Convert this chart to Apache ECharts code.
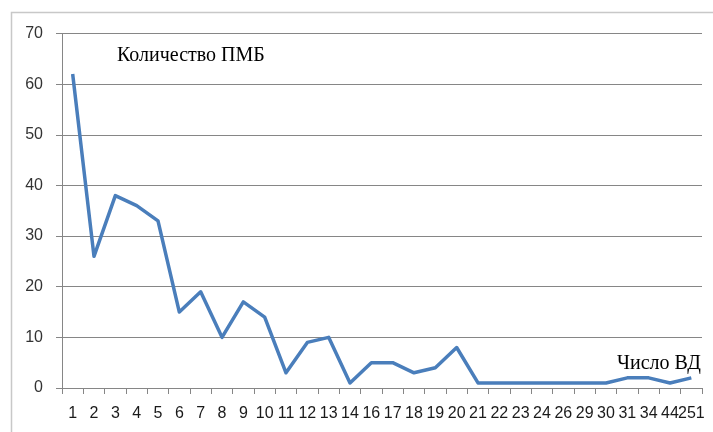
<!DOCTYPE html>
<html><head><meta charset="utf-8">
<script src="https://cdn.jsdelivr.net/npm/echarts@6/dist/echarts.min.js"></script>
<style>html,body{margin:0;padding:0;background:#fff}#c{width:713px;height:432px}</style>
</head><body><div id="c"></div>
<script>
const categories = ['1','2','3','4','5','6','7','8','9','10','11','12','13','14','16','17','18','19','20','21','22','23','24','26','29','30','31','34','44','251'];
const values = [62,26,38,36,33,15,19,10,17,14,3,9,10,1,5,5,3,4,8,1,1,1,1,1,1,1,2,2,1,2];
const yTicks = {min:0, max:70, interval:10};
const seriesName = 'Количество ПМБ';
const xName = 'Число ВД';

const chart = echarts.init(document.getElementById('c'), null, {renderer:'canvas'});
chart.setOption({
  animation:false,
  backgroundColor:'#fff',
  grid:{left:62, right:11, top:33.5, bottom:44, containLabel:false},
  xAxis:{
    type:'category', data:categories, boundaryGap:true,
    axisLine:{lineStyle:{color:'#868686', width:1}},
    axisTick:{show:true, alignWithLabel:false, interval:0, length:6, lineStyle:{color:'#868686'}},
    axisLabel:{interval:0, hideOverlap:false, color:'#1a1a1a', fontFamily:'"Liberation Sans Narrow", "Liberation Sans", sans-serif', fontSize:16, margin:18}
  },
  yAxis:{
    type:'value', min:yTicks.min, max:yTicks.max, interval:yTicks.interval,
    axisLine:{show:true, lineStyle:{color:'#868686'}},
    axisTick:{show:true, length:6, lineStyle:{color:'#868686'}},
    splitLine:{lineStyle:{color:'#868686', width:1}},
    axisLabel:{color:'#333', fontFamily:'Liberation Sans', fontSize:16, margin:19}
  },
  series:[{
    name:seriesName, type:'line', data:values, symbol:'none',
    lineStyle:{color:'#4a7ebb', width:3.5, join:'round'}
  }],
  graphic:[
    {type:'rect', shape:{x:11.5, y:12.5, width:720, height:440}, style:{fill:'none', stroke:'#c8c8c8', lineWidth:1.5}, silent:true},
    {type:'text', left:117, top:46, style:{text:seriesName, font:'20px "Liberation Serif"', fill:'#000'}},
    {type:'text', left:617, top:354, style:{text:xName, font:'20px "Liberation Serif"', fill:'#000'}}
  ]
});
</script></body></html>
